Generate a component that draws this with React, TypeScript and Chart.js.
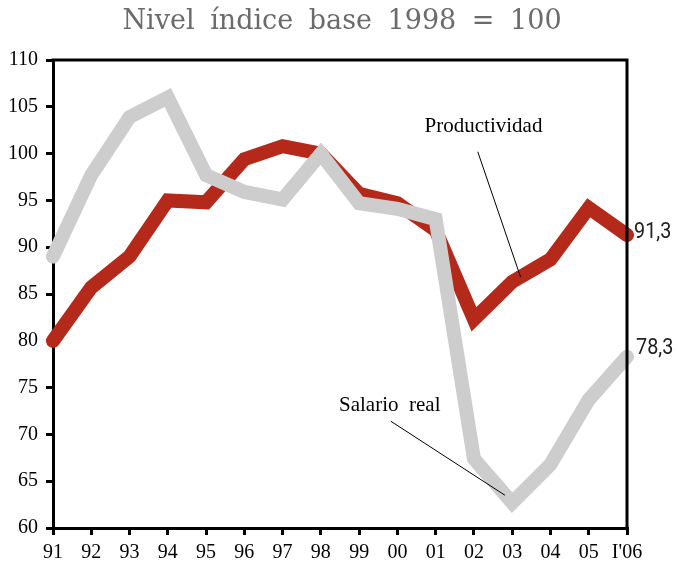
import React, { useEffect, useRef } from "react";
import { Chart, registerables } from "chart.js";
Chart.register(...registerables);

const categories = ["91", "92", "93", "94", "95", "96", "97", "98", "99", "00", "01", "02", "03", "04", "05", "I'06"];
const productividad = [80, 85.7, 89, 95, 94.8, 99.4, 100.8, 100, 95.7, 94.7, 91.8, 82.3, 86.3, 88.7, 94.2, 91.3];
const salarioReal = [89, 97.7, 103.9, 106, 97.7, 95.9, 95.1, 100, 94.7, 94.1, 93, 67.4, 62.7, 66.8, 73.7, 78.3];
const yMin = 60;
const yMax = 110;
const yStep = 5;
const titleText = "Nivel índice base 1998 = 100";
const endLabels = ["91,3", "78,3"];

const RED = "#b5291a";
const GRAY = "#cdcdcd";

export default function App() {
  const ref = useRef<HTMLCanvasElement | null>(null);
  useEffect(() => {
    if (!ref.current) return;
    const decor = {
      id: "decor",
      afterDatasetsDraw(chart: any) {
        const { ctx, chartArea, scales } = chart;
        const xs = scales.x;
        const ys = scales.y;
        const px = (i: number) => xs.left + (xs.right - xs.left) * (i / (categories.length - 1));
        ctx.save();
        ctx.strokeStyle = "#000";
        ctx.lineWidth = 3;
        ctx.beginPath();
        ctx.moveTo(chartArea.left - 1.5, chartArea.top);
        ctx.lineTo(chartArea.right, chartArea.top);
        ctx.lineTo(chartArea.right, chartArea.bottom + 1.5);
        ctx.stroke();
        // title
        ctx.fillStyle = "#6b6b6b";
        ctx.font = "27px 'DejaVu Serif'";
        (ctx as any).wordSpacing = "7px";
        ctx.textAlign = "center";
        ctx.textBaseline = "middle";
        ctx.fillText(titleText, 342, 22);
        (ctx as any).wordSpacing = "0px";
        // end labels (condensed)
        ctx.fillStyle = "#222";
        ctx.font = "22px Roboto, sans-serif";
        ctx.textAlign = "left";
        const last = categories.length - 1;
        const drawCond = (t: string, x: number, y: number) => {
          ctx.save();
          ctx.translate(x, y);
          ctx.scale(0.9, 1);
          ctx.fillText(t, 0, 0);
          ctx.restore();
        };
        drawCond(endLabels[0], chartArea.right + 7, ys.getPixelForValue(productividad[last]) - 3);
        drawCond(endLabels[1], chartArea.right + 9, ys.getPixelForValue(salarioReal[last]) - 8);
        // annotations
        ctx.fillStyle = "#000";
        ctx.font = "21px 'Liberation Serif'";
        ctx.textAlign = "center";
        ctx.fillText("Productividad", px(11.25), ys.getPixelForValue(102.9));
        ctx.fillText("Salario  real", px(8.8), ys.getPixelForValue(73.1));
        ctx.strokeStyle = "#000";
        ctx.lineWidth = 1;
        ctx.beginPath();
        ctx.moveTo(px(11.1), ys.getPixelForValue(100.2));
        ctx.lineTo(px(12.22), ys.getPixelForValue(86.8));
        ctx.moveTo(px(8.83), ys.getPixelForValue(71.4));
        ctx.lineTo(px(11.81), ys.getPixelForValue(63.5));
        ctx.stroke();
        ctx.restore();
      },
    };
    const chart = new Chart(ref.current, {
      type: "line",
      data: {
        labels: categories,
        datasets: [
          {
            label: "Salario real",
            data: salarioReal,
            borderColor: GRAY,
            borderWidth: 14,
            pointRadius: 0,
            tension: 0,
            borderJoinStyle: "miter",
            borderCapStyle: "round",
          },
          {
            label: "Productividad",
            data: productividad,
            borderColor: RED,
            borderWidth: 14,
            pointRadius: 0,
            tension: 0,
            borderJoinStyle: "miter",
            borderCapStyle: "round",
          },
        ],
      },
      options: {
        animation: false,
        responsive: false,
        layout: { padding: { top: 60, right: 51, left: 0, bottom: 0 } },
        plugins: { legend: { display: false }, tooltip: { enabled: false }, title: { display: false } },
        scales: {
          x: {
            type: "category",
            offset: false,
            grid: { drawOnChartArea: false, drawTicks: true, tickLength: 7, color: "#000", lineWidth: 3 },
            border: { display: true, color: "#000", width: 3 },
            ticks: {
              color: "#000",
              font: { family: "'Liberation Serif'", size: 20 },
              padding: 6,
              maxRotation: 0,
              autoSkip: false,
            },
            afterFit(scale: any) {
              scale.height = 33;
            },
          },
          y: {
            min: yMin,
            max: yMax,
            grid: { drawOnChartArea: false, drawTicks: true, tickLength: 7, color: "#000", lineWidth: 3 },
            border: { display: true, color: "#000", width: 3 },
            ticks: {
              stepSize: yStep,
              color: "#000",
              font: { family: "'Liberation Serif'", size: 20 },
              padding: 8,
            },
            afterFit(scale: any) {
              scale.width = 53;
            },
          },
        },
      },
      plugins: [decor],
    });
    return () => chart.destroy();
  }, []);
  return (
    <div style={{ position: "absolute", left: 0, top: 0, width: 678, height: 561, background: "#fff" }}>
      <canvas ref={ref} width={678} height={561} style={{ display: "block" }} />
    </div>
  );
}
